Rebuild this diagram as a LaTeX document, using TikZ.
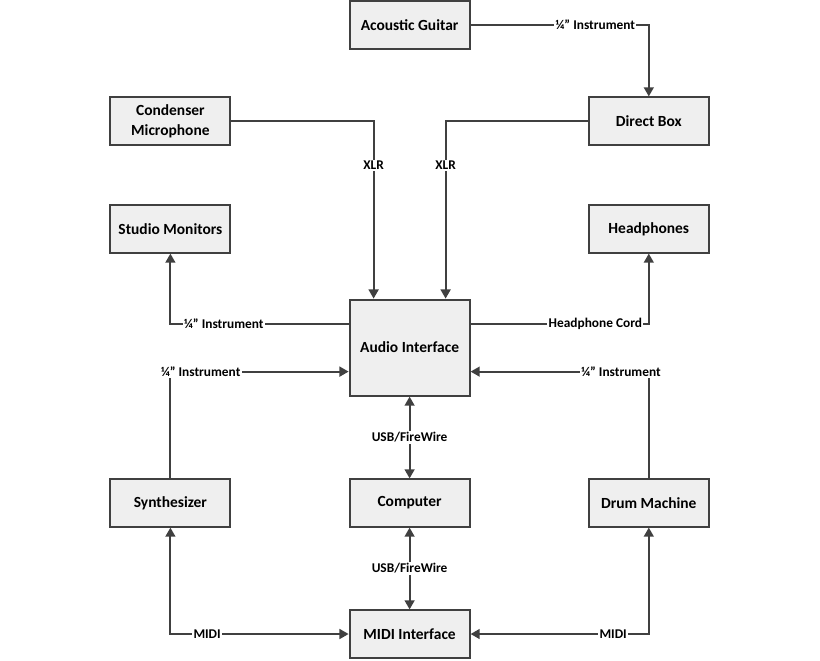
\documentclass[tikz,border=0pt]{standalone}
\usepackage{fontspec}
\setmainfont{Carlito}
\usetikzlibrary{arrows.meta}
\definecolor{linegray}{HTML}{404040}
\definecolor{boxfill}{HTML}{EFEFEF}
\tikzset{
  box/.style={draw=linegray, fill=boxfill, line width=1.4pt, minimum width=3.0cm,
    minimum height=1.18cm, align=center, font=\fontsize{11}{14}\selectfont\bfseries},
  lbl/.style={fill=white, inner sep=1pt, font=\fontsize{9.5}{11}\selectfont\bfseries},
  wire/.style={draw=linegray, line width=1.4pt},
  >={Triangle[width=7pt,length=6.5pt]}
}
\begin{document}
\begin{tikzpicture}
\useasboundingbox (0,0) rectangle (20.5,-16.5);
\node[box] (guitar) at (10.24,-0.625) {Acoustic Guitar};
\node[box] (mic) at (4.26,-3.025) {Condenser\\Microphone};
\node[box] (dibox) at (16.22,-3.025) {Direct Box};
\node[box] (monitors) at (4.26,-5.725) {Studio Monitors};
\node[box] (phones) at (16.22,-5.725) {Headphones};
\node[box, minimum height=2.4cm] (audio) at (10.24,-8.69) {Audio Interface};
\node[box] (synth) at (4.26,-12.575) {Synthesizer};
\node[box] (computer) at (10.24,-12.575) {Computer};
\node[box] (drums) at (16.22,-12.575) {Drum Machine};
\node[box] (midi) at (10.24,-15.85) {MIDI Interface};
% inputs
\draw[wire,->] (guitar.east) -| node[lbl, pos=0.35] {¼” Instrument} (dibox.north);
\draw[wire,->] (mic.east) -| node[lbl, pos=0.625] {XLR} ([xshift=-0.9cm]audio.north);
\draw[wire,->] (dibox.west) -| node[lbl, pos=0.625] {XLR} ([xshift=0.9cm]audio.north);
\draw[wire,->] (synth.north) |- node[lbl, pos=0.585] {¼” Instrument} ([yshift=-0.6cm]audio.west);
\draw[wire,->] (drums.north) |- node[lbl, pos=0.578] {¼” Instrument} ([yshift=-0.6cm]audio.east);
% outputs
\draw[wire,->] ([yshift=0.6cm]audio.west) -| node[lbl, pos=0.35] {¼” Instrument} (monitors.south);
\draw[wire,->] ([yshift=0.6cm]audio.east) -| node[lbl, pos=0.35] {Headphone Cord} (phones.south);
% computer and midi
\draw[wire,<->] (audio.south) -- node[lbl] {USB/FireWire} (computer.north);
\draw[wire,<->] (computer.south) -- node[lbl] {USB/FireWire} (midi.north);
\draw[wire,<->] (midi.west) -| node[lbl, pos=0.397] {MIDI} (synth.south);
\draw[wire,<->] (midi.east) -| node[lbl, pos=0.40] {MIDI} (drums.south);
\end{tikzpicture}
\end{document}
